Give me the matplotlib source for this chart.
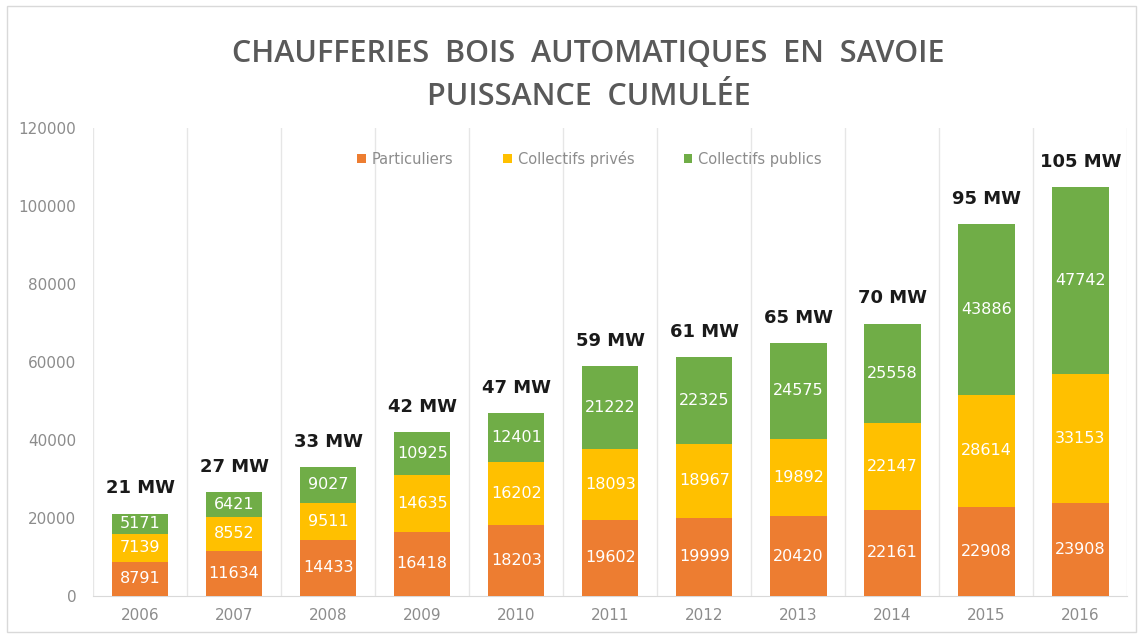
import matplotlib.pyplot as plt
import matplotlib.patches as patches
import numpy as np

years = ["2006", "2007", "2008", "2009", "2010", "2011", "2012", "2013", "2014", "2015", "2016"]
particuliers = [8791, 11634, 14433, 16418, 18203, 19602, 19999, 20420, 22161, 22908, 23908]
collectifs_prives = [7139, 8552, 9511, 14635, 16202, 18093, 18967, 19892, 22147, 28614, 33153]
collectifs_publics = [5171, 6421, 9027, 10925, 12401, 21222, 22325, 24575, 25558, 43886, 47742]
series_names = ["Particuliers", "Collectifs privés", "Collectifs publics"]
colors = ["#ED7D31", "#FFC000", "#70AD47"]

fig = plt.figure(figsize=(11.43, 6.38), dpi=100)
ax = fig.add_axes([0.0814, 0.066, 0.905, 0.733])

x = np.arange(len(years))
bottom = np.zeros(len(years))
for vals, name, col in zip([particuliers, collectifs_prives, collectifs_publics], series_names, colors):
    vals = np.array(vals)
    ax.bar(x, vals, 0.6, bottom=bottom, color=col, label=name, zorder=3)
    for xi, b, v in zip(x, bottom, vals):
        ax.text(xi, b + v / 2, f"{v}", ha="center", va="center",
                fontsize=11.5, color="white", zorder=4)
    bottom += vals

# totals in MW above each bar
for xi, tot in zip(x, bottom):
    ax.text(xi, tot + 4200, f"{round(tot / 1000)} MW", ha="center", va="bottom",
            fontsize=13, fontweight="bold", color="#1a1a1a")

ax.set_xlim(-0.5, len(years) - 0.5)
ax.set_ylim(0, 120000)
ax.set_yticks(np.arange(0, 120001, 20000))
ax.set_xticks(x)
ax.set_xticklabels(years)
ax.set_xticks(np.arange(-0.5, len(years), 1), minor=True)
ax.grid(True, which="minor", axis="x", color="#e6e6e6", lw=1, zorder=0)
ax.tick_params(axis="both", which="both", length=0, colors="#8c8c8c", labelsize=11)
ax.tick_params(axis="x", pad=9)
ax.tick_params(axis="y", pad=12)
for s in ["top", "right", "left"]:
    ax.spines[s].set_visible(False)
ax.spines["bottom"].set_color("#d9d9d9")

leg = ax.legend(loc="upper center", bbox_to_anchor=(0.48, 0.98), ncol=3, frameon=False,
                fontsize=10.5, handlelength=0.6, handleheight=0.6, columnspacing=3.4,
                handletextpad=0.4)
for t in leg.get_texts():
    t.set_color("#8c8c8c")

fig.text(0.515, 0.915, "CHAUFFERIES  BOIS  AUTOMATIQUES  EN  SAVOIE", ha="center", va="center",
         fontsize=22, color="#595959", family="Open Sans", fontweight="semibold")
fig.text(0.515, 0.848, "PUISSANCE  CUMULÉE", ha="center", va="center",
         fontsize=22, color="#595959", family="Open Sans", fontweight="semibold")

fig.patches.append(patches.Rectangle((0.006, 0.01), 0.988, 0.98, transform=fig.transFigure,
                                     fill=False, edgecolor="#d9d9d9", lw=1))

fig.savefig("out.png", dpi=100)
